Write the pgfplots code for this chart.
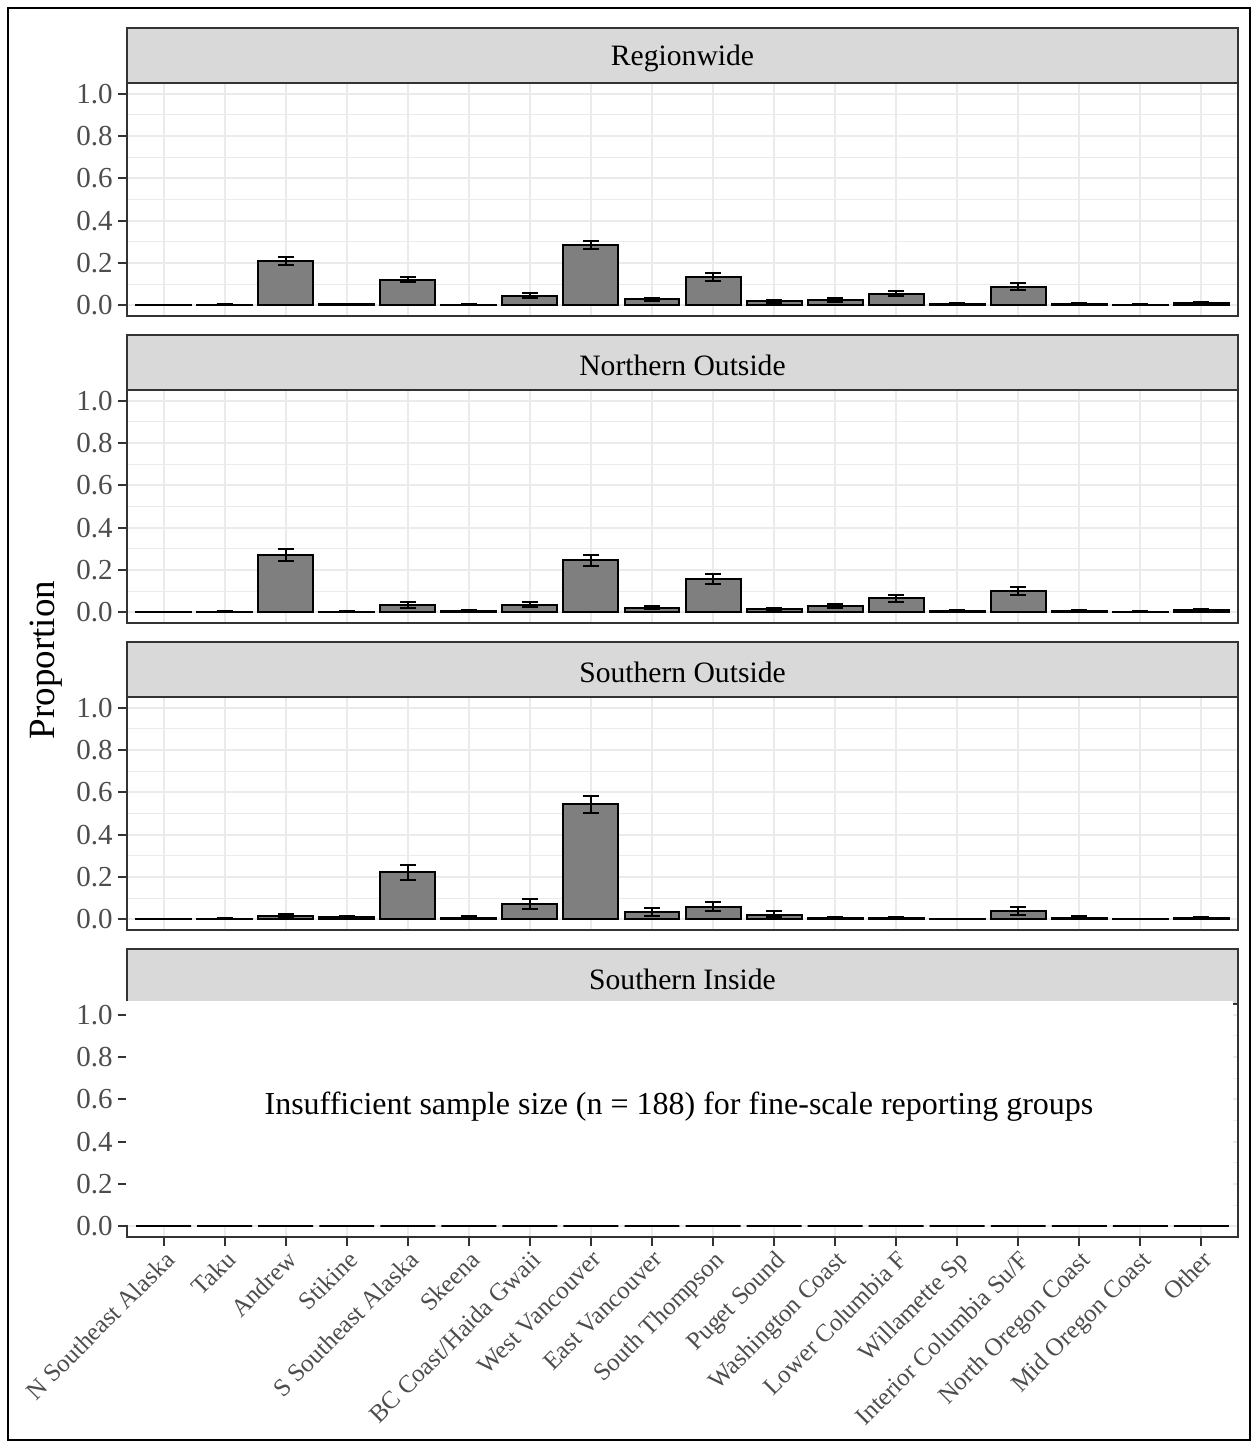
\documentclass[border=0pt]{standalone}
\usepackage{fontspec}
\setmainfont{Liberation Serif}
\usepackage{pgfplots}
\usepackage{pgfplotstable}
\pgfplotsset{compat=1.18}

\definecolor{barfill}{RGB}{127,127,127}
\definecolor{stripfill}{RGB}{217,217,217}
\definecolor{gridc}{RGB}{235,235,235}
\definecolor{grey20}{RGB}{51,51,51}
\definecolor{grey30}{RGB}{77,77,77}

% x y ep em
\pgfplotstableread{
x y ep em
1 0.002 0.002 0.002
2 0.003 0.003 0.002
3 0.210 0.020 0.020
4 0.005 0.003 0.003
5 0.122 0.014 0.012
6 0.004 0.003 0.003
7 0.045 0.012 0.010
8 0.285 0.021 0.021
9 0.029 0.008 0.009
10 0.134 0.020 0.020
11 0.019 0.007 0.006
12 0.026 0.009 0.008
13 0.056 0.014 0.012
14 0.006 0.003 0.003
15 0.089 0.016 0.017
16 0.006 0.003 0.003
17 0.004 0.003 0.003
18 0.012 0.004 0.004
}\tabRegion

\pgfplotstableread{
x y ep em
1 0.002 0.002 0.002
2 0.004 0.003 0.003
3 0.270 0.027 0.027
4 0.003 0.003 0.003
5 0.036 0.015 0.014
6 0.005 0.004 0.004
7 0.037 0.011 0.010
8 0.245 0.027 0.026
9 0.022 0.008 0.007
10 0.157 0.024 0.023
11 0.014 0.006 0.005
12 0.030 0.010 0.009
13 0.066 0.016 0.016
14 0.006 0.004 0.003
15 0.101 0.021 0.020
16 0.006 0.004 0.004
17 0.004 0.003 0.003
18 0.011 0.005 0.005
}\tabNorth

\pgfplotstableread{
x y ep em
1 0.001 0.001 0.001
2 0.003 0.003 0.003
3 0.016 0.011 0.010
4 0.009 0.009 0.007
5 0.222 0.035 0.036
6 0.008 0.008 0.007
7 0.073 0.024 0.026
8 0.543 0.039 0.041
9 0.035 0.020 0.018
10 0.059 0.022 0.020
11 0.023 0.017 0.014
12 0.006 0.006 0.005
13 0.005 0.004 0.004
14 0.001 0.001 0.001
15 0.040 0.017 0.019
16 0.007 0.008 0.006
17 0.001 0.001 0.001
18 0.007 0.006 0.006
}\tabSouthOut

\pgfplotstableread{
x y
1 0
2 0
3 0
4 0
5 0
6 0
7 0
8 0
9 0
10 0
11 0
12 0
13 0
14 0
15 0
16 0
17 0
18 0
}\tabSouthIn

\pgfplotsset{
  panel/.style={
    width=555.5pt, height=116.5pt, scale only axis,
    anchor=south west,
    xmin=0.4, xmax=18.6, ymin=-0.05, ymax=1.05,
    ybar, bar width=0.9,
    xtick={1,...,18},
    ytick={0,0.2,0.4,0.6,0.8,1},
    yticklabels={0.0,0.2,0.4,0.6,0.8,1.0},
    minor ytick={0.1,0.3,0.5,0.7,0.9},
    xmajorgrids, ymajorgrids, yminorgrids,
    major grid style={draw=gridc, line width=1pt},
    minor grid style={draw=gridc, line width=0.5pt},
    axis line style={draw=grey20, line width=1pt},
    tick align=outside,
    major tick length=4.5pt, minor tick length=0pt,
    tick style={draw=grey20, line width=1pt},
    ytick pos=left, xtick pos=bottom,
    yticklabel style={font=\fontsize{14.5}{17}\selectfont, text=grey30, inner sep=1pt, xshift=-1.5pt},
  },
  barstyle/.style={fill=barfill, draw=black, line width=1pt},
  ebars/.style={
    error bars/.cd, y dir=both, y explicit,
    error bar style={line width=1pt, draw=black},
    error mark options={rotate=90, mark size=4pt, line width=1pt, draw=black},
  },
}

\begin{document}
\begin{tikzpicture}
\useasboundingbox (0,0) rectangle (628.5pt,722pt);
\fill[white] (0,0) rectangle (628.5pt,722pt);

% Panel 1
\begin{axis}[panel, name=ax1, at={(63.5pt,564pt)}, xmajorticks=false, xticklabels={}]
\addplot[barstyle, ebars] table[x=x, y=y, y error plus=ep, y error minus=em] {\tabRegion};
\end{axis}
\draw[fill=stripfill, draw=grey20, line width=1pt] (ax1.north west) rectangle ([yshift=27.5pt]ax1.north east);
\node[font=\fontsize{14.8}{17}\selectfont, text=black] at ([yshift=12.2pt]ax1.north) {Regionwide};

% Panel 2
\begin{axis}[panel, name=ax2, at={(63.5pt,410.5pt)}, xmajorticks=false, xticklabels={}]
\addplot[barstyle, ebars] table[x=x, y=y, y error plus=ep, y error minus=em] {\tabNorth};
\end{axis}
\draw[fill=stripfill, draw=grey20, line width=1pt] (ax2.north west) rectangle ([yshift=27.5pt]ax2.north east);
\node[font=\fontsize{14.8}{17}\selectfont, text=black] at ([yshift=12.2pt]ax2.north) {Northern Outside};

% Panel 3
\begin{axis}[panel, name=ax3, at={(63.5pt,257pt)}, xmajorticks=false, xticklabels={}]
\addplot[barstyle, ebars] table[x=x, y=y, y error plus=ep, y error minus=em] {\tabSouthOut};
\end{axis}
\draw[fill=stripfill, draw=grey20, line width=1pt] (ax3.north west) rectangle ([yshift=27.5pt]ax3.north east);
\node[font=\fontsize{14.8}{17}\selectfont, text=black] at ([yshift=12.2pt]ax3.north) {Southern Outside};

% Panel 4
\begin{axis}[panel, name=ax4, at={(63.5pt,103.5pt)},
  xticklabels={N Southeast Alaska, Taku, Andrew, Stikine, S Southeast Alaska, Skeena, BC Coast/Haida Gwaii, West Vancouver, East Vancouver, South Thompson, Puget Sound, Washington Coast, Lower Columbia F, Willamette Sp, Interior Columbia Su/F, North Oregon Coast, Mid Oregon Coast, Other},
  xticklabel style={font=\fontsize{12.5}{15}\selectfont, text=grey30, rotate=45, anchor=north east, inner sep=1pt}]
\addplot[barstyle] table[x=x, y=y] {\tabSouthIn};
\end{axis}
\draw[fill=stripfill, draw=grey20, line width=1pt] (ax4.north west) rectangle ([yshift=27.5pt]ax4.north east);
\node[font=\fontsize{14.8}{17}\selectfont, text=black] at ([yshift=12.2pt]ax4.north) {Southern Inside};
\fill[white] (63pt,109.7pt) rectangle (616.6pt,221.5pt);
\node[font=\fontsize{16}{19}\selectfont, text=black] at (339.5pt,168.5pt) {Insufficient sample size (n = 188) for fine-scale reporting groups};

% y label
\node[rotate=90, font=\fontsize{18.5}{22}\selectfont] at (23pt,392pt) {Proportion};

% outer frame
\draw[line width=0.7pt, black] (4pt,2pt) rectangle (625pt,718pt);
\end{tikzpicture}
\end{document}
